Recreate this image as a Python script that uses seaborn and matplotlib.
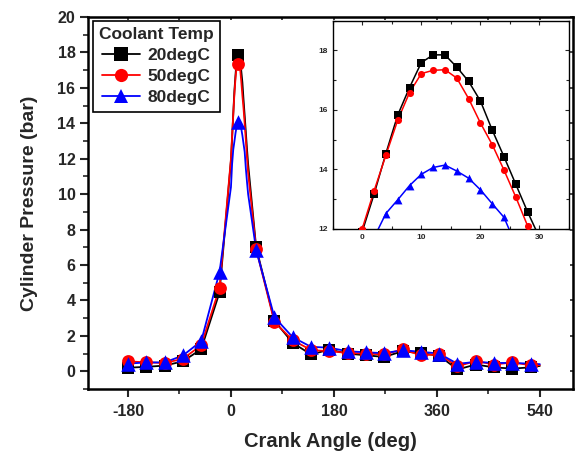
import numpy as np
import pandas as pd
import seaborn as sns
import matplotlib.pyplot as plt
from matplotlib.lines import Line2D
from matplotlib.ticker import MultipleLocator

# crank angles where the main plot draws a marker
crank_marked = [-180, -148, -116, -84, -52, -20, 12, 44, 76, 108, 140, 172,
                204, 236, 268, 300, 332, 364, 396, 428, 460, 492, 524]
p20_marked = [0.2, 0.25, 0.32, 0.56, 1.25, 4.45, 17.85, 7.0, 2.85, 1.6, 0.95, 1.22,
              1.0, 0.9, 0.81, 1.13, 1.02, 0.88, 0.1, 0.38, 0.22, 0.15, 0.22]
p50_marked = [0.56, 0.5, 0.47, 0.7, 1.47, 4.7, 17.33, 6.9, 2.78, 1.75, 1.2, 1.13,
              1.04, 1.0, 0.95, 1.23, 0.91, 0.95, 0.28, 0.58, 0.38, 0.5, 0.34]
p80_marked = [0.43, 0.5, 0.5, 0.89, 1.7, 5.6, 14.06, 6.85, 3.05, 1.92, 1.38, 1.33,
              1.13, 1.07, 1.02, 1.19, 1.1, 1.0, 0.42, 0.53, 0.47, 0.47, 0.43]

# fine data around the peak (inset)
crank_peak = [0, 2, 4, 6, 8, 10, 12, 14, 16, 18, 20, 22, 24, 26, 28, 30]
p20_peak = [11.9, 13.16, 14.53, 15.82, 16.75, 17.59, 17.85, 17.85, 17.44, 16.96,
            16.30, 15.32, 14.42, 13.49, 12.56, 11.7]
p50_peak = [12.0, 13.27, 14.47, 15.65, 16.58, 17.22, 17.33, 17.35, 17.07, 16.38,
            15.56, 14.83, 13.97, 13.06, 12.09, 11.2]
p80_peak = [10.4, 11.7, 12.51, 12.97, 13.45, 13.83, 14.06, 14.14, 13.94, 13.70,
            13.31, 12.84, 12.38, 11.45, 10.7, 10.0]

# end of the trace (no marker)
crank_end = [540]
p20_end = [0.3]
p50_end = [0.35]
p80_end = [0.4]

TEMPS = ['20degC', '50degC', '80degC']
COLORS = {'20degC': '#000000', '50degC': '#FF0000', '80degC': '#0000FF'}
MARKERS = {'20degC': 's', '50degC': 'o', '80degC': '^'}

marked = {'20degC': p20_marked, '50degC': p50_marked, '80degC': p80_marked}
peak = {'20degC': p20_peak, '50degC': p50_peak, '80degC': p80_peak}
end = {'20degC': p20_end, '50degC': p50_end, '80degC': p80_end}

rows_mark, rows_peak, rows_end = [], [], []
for t in TEMPS:
    for c, p in zip(crank_marked, marked[t]):
        rows_mark.append((t, c, p))
    for c, p in zip(crank_peak, peak[t]):
        rows_peak.append((t, c, p))
    for c, p in zip(crank_end, end[t]):
        rows_end.append((t, c, p))
cols = ['temp', 'crank', 'pressure']
df_mark = pd.DataFrame(rows_mark, columns=cols)
df_peak = pd.DataFrame(rows_peak, columns=cols)
df_end = pd.DataFrame(rows_end, columns=cols)
df_line = pd.concat([df_peak, df_mark, df_end]).drop_duplicates(['temp', 'crank'])
df_line = df_line.sort_values(['temp', 'crank'])

sns.set_style('ticks')
plt.rcParams['font.family'] = ['Liberation Sans', 'DejaVu Sans']
plt.rcParams['font.weight'] = 'bold'
plt.rcParams['axes.unicode_minus'] = False

fig = plt.figure(figsize=(5.75, 4.58), dpi=100)
ax = fig.add_axes([0.153, 0.1507, 0.8435, 0.8123])

sns.lineplot(data=df_line, x='crank', y='pressure', hue='temp', hue_order=TEMPS,
             palette=COLORS, estimator=None, sort=True, legend=False, ax=ax,
             linewidth=1.3)
for t in TEMPS:
    sub = df_mark[df_mark.temp == t]
    sns.scatterplot(data=sub, x='crank', y='pressure', color=COLORS[t],
                    marker=MARKERS[t], s=85 if t != '80degC' else 110,
                    linewidth=0, legend=False, ax=ax, zorder=3)

ax.set_xlim(-250, 598)
ax.set_ylim(-1, 20)
ax.set_xticks([-180, 0, 180, 360, 540])
ax.xaxis.set_minor_locator(MultipleLocator(90))
ax.set_yticks(np.arange(0, 21, 2))
ax.yaxis.set_minor_locator(MultipleLocator(1))
ax.tick_params(which='major', direction='out', length=6, width=1.5, labelsize=11.5)
ax.tick_params(which='minor', direction='out', length=3.5, width=1.2)
ax.tick_params(axis='x', pad=5)
ax.tick_params(axis='y', pad=3)
for lab in ax.get_xticklabels() + ax.get_yticklabels():
    lab.set_fontweight('bold')
for sp in ax.spines.values():
    sp.set_linewidth(1.8)
    sp.set_color('black')
    sp.set_visible(True)

top = ax.secondary_xaxis('top')
top.set_xticks([-180, 0, 180, 360, 540], labels=[])
top.xaxis.set_minor_locator(MultipleLocator(90))
top.tick_params(which='both', direction='in', length=2.5, width=1.2)
right = ax.secondary_yaxis('right')
right.set_yticks(np.arange(0, 21, 2), labels=[])
right.tick_params(which='both', direction='in', length=2.5, width=1.2)

ax.set_xlabel('Crank Angle (deg)', fontsize=14.5, fontweight='bold', labelpad=9)
ax.set_ylabel('Cylinder Pressure (bar)', fontsize=14, fontweight='bold', labelpad=14)

handles = [Line2D([0], [0], color=COLORS[t], marker=MARKERS[t], lw=1.3,
                  markersize=9.5 if t != '80degC' else 10.5, markeredgewidth=0)
           for t in TEMPS]
leg = ax.legend(handles, TEMPS, title='Coolant Temp', loc='upper left',
                bbox_to_anchor=(0.01, 0.99), borderaxespad=0, fancybox=False,
                framealpha=1, edgecolor='black', prop={'size': 12.5, 'weight': 'bold'},
                handlelength=2.2, handletextpad=0.4, labelspacing=0.35,
                borderpad=0.35)
leg.get_title().set_fontweight('bold')
leg.get_title().set_fontsize(12.5)
leg.get_frame().set_linewidth(1.2)

# inset zoom on the peak
axin = fig.add_axes([0.5786, 0.5007, 0.411, 0.4541])
sns.lineplot(data=df_line, x='crank', y='pressure', hue='temp', hue_order=TEMPS,
             palette=COLORS, estimator=None, sort=True, legend=False, ax=axin,
             linewidth=1.1)
for t in TEMPS:
    sub = df_peak[df_peak.temp == t]
    sns.scatterplot(data=sub, x='crank', y='pressure', color=COLORS[t],
                    marker=MARKERS[t], s=26 if t != '80degC' else 32,
                    linewidth=0, legend=False, ax=axin, zorder=3)
axin.set_xlim(-5, 35)
axin.set_ylim(12, 19)
axin.set_xticks([0, 10, 20, 30])
axin.xaxis.set_minor_locator(MultipleLocator(5))
axin.set_yticks([12, 14, 16, 18])
axin.yaxis.set_minor_locator(MultipleLocator(1))
axin.tick_params(which='both', direction='in', top=True, right=True,
                 labelsize=6, width=0.8)
axin.tick_params(which='major', length=3)
axin.tick_params(which='minor', length=2)
for lab in axin.get_xticklabels() + axin.get_yticklabels():
    lab.set_fontweight('bold')
axin.set_xlabel('')
axin.set_ylabel('')
for sp in axin.spines.values():
    sp.set_linewidth(1.0)
    sp.set_color('black')

fig.savefig('out.png', dpi=100)
